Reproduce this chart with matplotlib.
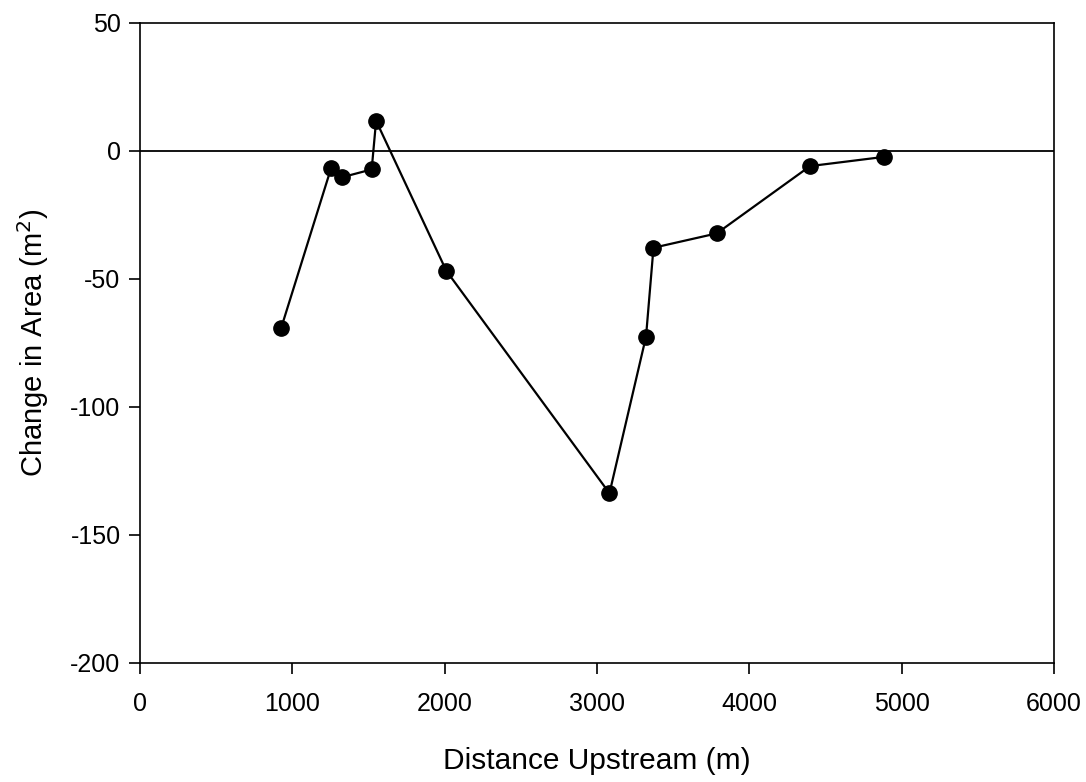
import matplotlib
matplotlib.use("Agg")
import matplotlib.pyplot as plt

plt.rcParams['font.family'] = ['Liberation Sans', 'DejaVu Sans']
plt.rcParams['axes.unicode_minus'] = False

distance = [926, 1254, 1324, 1521, 1550, 2011, 3082, 3322, 3371, 3786, 4399, 4885]
area_change = [-69.3, -6.8, -10.3, -7.2, 11.8, -46.8, -133.7, -72.5, -37.8, -32.2, -5.9, -2.3]

x_ticks = [0, 1000, 2000, 3000, 4000, 5000, 6000]
y_ticks = [-200, -150, -100, -50, 0, 50]

fig = plt.figure(figsize=(10.86, 7.82), dpi=100)
ax = fig.add_axes([0.1289, 0.1522, 0.8416, 0.8184])

ax.axhline(0, color='black', linewidth=1.3, zorder=1)
ax.plot(distance, area_change, color='black', linewidth=1.6,
        marker='o', markersize=11, zorder=3)

ax.set_xlim(0, 6000)
ax.set_ylim(-200, 50)
ax.set_xticks(x_ticks)
ax.set_yticks(y_ticks)
ax.tick_params(direction='out', length=8, width=1.2, labelsize=18)
ax.tick_params(axis='x', pad=13)
ax.tick_params(axis='y', pad=6)
for side in ax.spines.values():
    side.set_linewidth(1.2)

ax.set_xlabel('Distance Upstream (m)', fontsize=21.5, labelpad=22)
ax.set_ylabel('Change in Area (m$^2$)', fontsize=21, labelpad=14)

fig.savefig('out.png', dpi=100)
